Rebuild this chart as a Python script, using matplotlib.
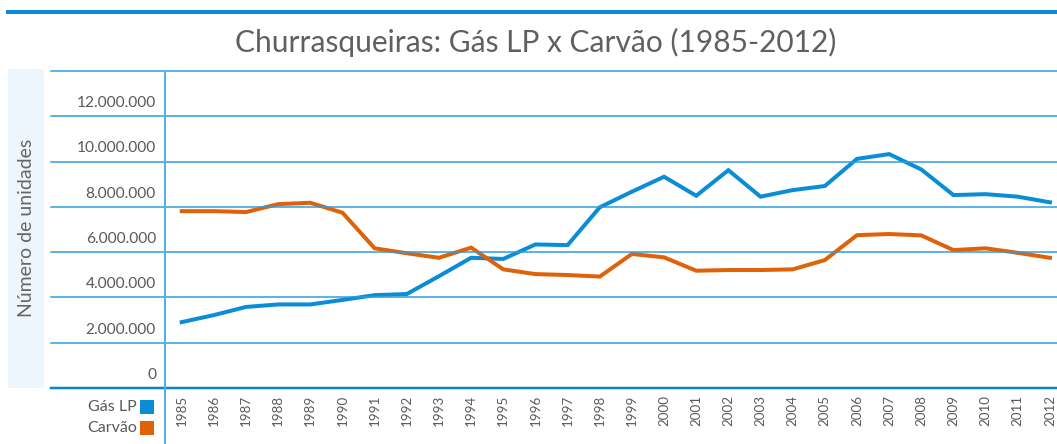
import matplotlib
matplotlib.use("Agg")
import matplotlib.pyplot as plt
from matplotlib.lines import Line2D
from matplotlib.patches import Rectangle
import matplotlib.transforms as mtransforms

years = list(range(1985, 2013))
gas_lp = [2.91, 3.22, 3.58, 3.69, 3.69, 3.89, 4.10, 4.15, 4.94, 5.75,
          5.70, 6.34, 6.31, 7.98, 8.67, 9.33, 8.49, 9.62, 8.45, 8.74,
          8.92, 10.12, 10.33, 9.65, 8.52, 8.56, 8.45, 8.20]
carvao = [7.81, 7.81, 7.77, 8.12, 8.18, 7.74, 6.17, 5.95, 5.75, 6.20,
          5.24, 5.03, 4.99, 4.92, 5.92, 5.77, 5.18, 5.21, 5.21, 5.24,
          5.65, 6.75, 6.80, 6.74, 6.09, 6.17, 5.97, 5.75]
gas_lp = [v * 1e6 for v in gas_lp]
carvao = [v * 1e6 for v in carvao]
y_ticks = [0, 2e6, 4e6, 6e6, 8e6, 10e6, 12e6]
y_tick_labels = ["0", "2.000.000", "4.000.000", "6.000.000", "8.000.000", "10.000.000", "12.000.000"]
title = "Churrasqueiras: Gás LP x Carvão (1985-2012)"
ylabel = "Número de unidades"
series_names = ["Gás LP", "Carvão"]

BLUE = "#0A8DD6"
ORANGE = "#DF6209"
GRID = "#2A9CDB"
TXT = "#5A5A5A"
W, H = 1057, 444

fig = plt.figure(figsize=(W / 100, H / 100), dpi=100)
ax = fig.add_axes([165 / W, (H - 388) / H, (W - 165) / W, (388 - 71) / H])
ax.set_xlim(1984.48, 2012.22)
ax.set_ylim(0, 14e6)
ax.axis("off")

fontfam = ["Lato", "DejaVu Sans"]

# light blue box for y label
fig.add_artist(Rectangle((8 / W, (H - 388) / H), 36 / W, (388 - 69) / H,
                         transform=fig.transFigure, facecolor="#EEF6FD", edgecolor="none", zorder=0))
fig.text(26 / W, (H - 228) / H, ylabel, rotation=90, ha="center", va="center",
         fontsize=14, color="#666666", family=fontfam)

# top thick line
fig.add_artist(Line2D([8 / W, 1], [(H - 12) / H] * 2, transform=fig.transFigure,
                      color="#0A8AD3", lw=4 * 0.72))

# gridlines across figure
tr = mtransforms.blended_transform_factory(fig.transFigure, ax.transData)
for v in [2e6, 4e6, 6e6, 8e6, 10e6, 12e6, 14e6]:
    fig.add_artist(Line2D([51 / W, 1], [v, v], transform=tr, color=GRID, lw=1.5 * 0.72, zorder=1))
fig.add_artist(Line2D([51 / W, 1], [0, 0], transform=tr, color="#0A84CC", lw=2.5 * 0.72, zorder=1))

# vertical axis line
fig.add_artist(Line2D([165 / W] * 2, [(H - 71) / H, 0], transform=fig.transFigure,
                      color="#55B0E6", lw=2 * 0.72, zorder=1))

# y tick labels
for v, lab in zip(y_ticks, y_tick_labels):
    fig.text(156 / W, v + 0.58e6, lab, transform=tr, ha="right", va="center", fontsize=11.2,
             color=TXT, family=fontfam)

# lines
ax.plot(years, gas_lp, color=BLUE, lw=4 * 0.72, solid_joinstyle="miter", zorder=3, clip_on=False)
ax.plot(years, carvao, color=ORANGE, lw=4 * 0.72, solid_joinstyle="miter", zorder=3, clip_on=False)

# x labels
xtr = mtransforms.blended_transform_factory(ax.transData, fig.transFigure)
for yr in years:
    fig.text(yr, (H - 395) / H, str(yr), transform=xtr, rotation=90, ha="center", va="top",
             fontsize=9.6, color=TXT, family=fontfam)

# legend
for i, (name, col) in enumerate(zip(series_names, [BLUE, ORANGE])):
    y0 = 399.5 + i * 21
    fig.add_artist(Rectangle((140 / W, (H - y0 - 14) / H), 14 / W, 14 / H, transform=fig.transFigure,
                             facecolor=col, edgecolor="none"))
    fig.text(137 / W, (H - y0 - 7) / H, name, ha="right", va="center", fontsize=11.5, color=TXT,
             family=fontfam)

fig.text(536 / W, (H - 42) / H, title, ha="center", va="center", fontsize=21.5, color="#606060",
         family=fontfam)

fig.savefig("out.png", dpi=100)
